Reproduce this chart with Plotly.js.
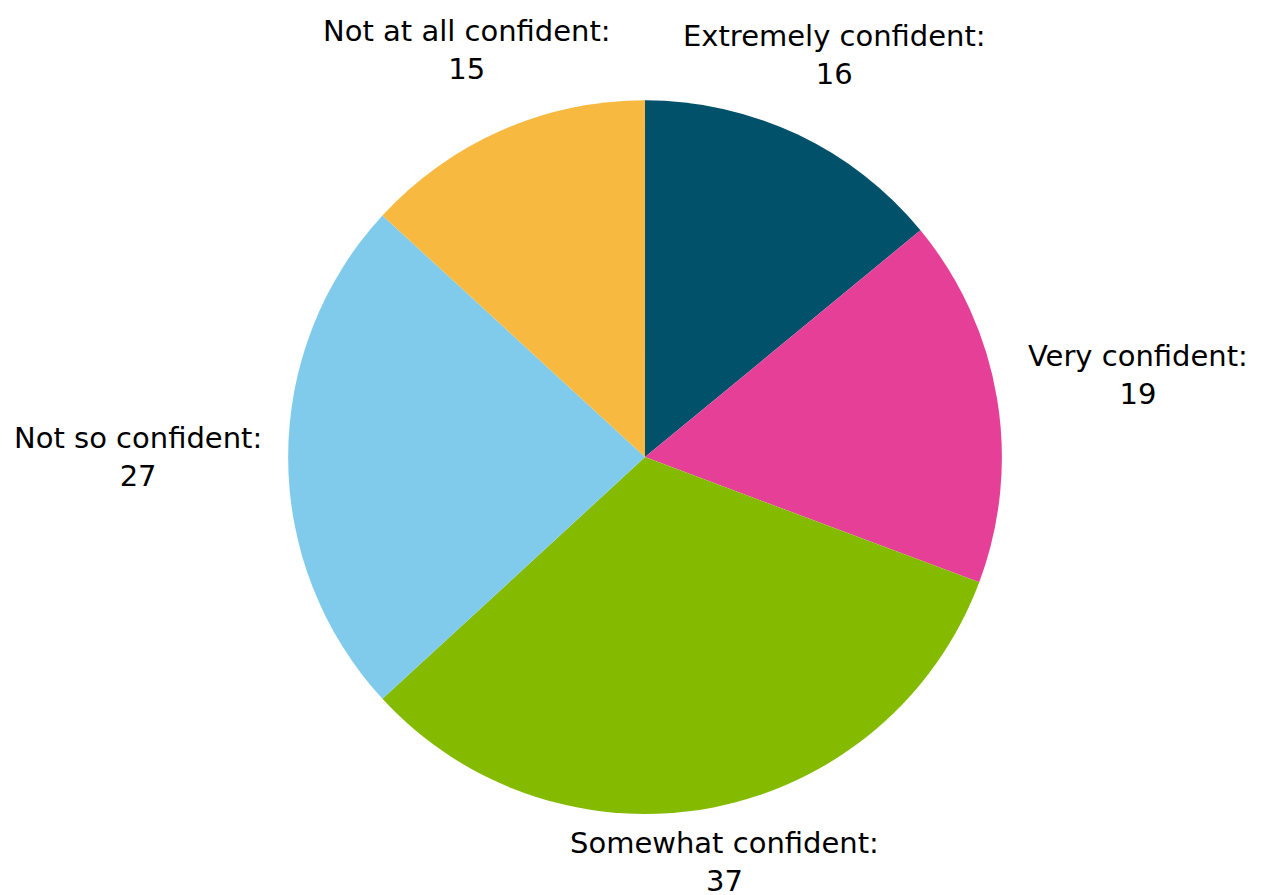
<!DOCTYPE html>
<html>
<head>
<meta charset="utf-8">
<script src="https://cdn.plot.ly/plotly-3.0.1.min.js"></script>
<style>html,body{margin:0;padding:0;background:#fff;}#chart{width:1263px;height:895px;}</style>
</head>
<body>
<div id="chart"></div>
<script>
const categories = ["Extremely confident", "Very confident", "Somewhat confident", "Not so confident", "Not at all confident"];
const values = [16, 19, 37, 27, 15];
const colors = ["#02516B", "#E63F98", "#84BB00", "#80CBEB", "#F7B940"];

const W = 1263, H = 895;
const domX = [0.228, 0.7934], domY = [0.0905, 0.888];
const FONT_FAMILY = "DejaVu Sans";
const FONT_SIZE = 29;
const basePad = 26, upPad = 32;

const trace = {
  type: "pie",
  labels: categories,
  values: values,
  sort: false,
  direction: "clockwise",
  rotation: 0,
  marker: {colors: colors, line: {width: 0}},
  textposition: "none",
  automargin: false,
  domain: {x: domX, y: domY},
  hoverinfo: "label+value",
  showlegend: false
};

// label placement derived from the slice angles
const ctx = document.createElement("canvas").getContext("2d");
ctx.font = FONT_SIZE + "px '" + FONT_FAMILY + "'";
const total = values.reduce((a, b) => a + b, 0);
const cxPx = (domX[0] + domX[1]) / 2 * W;
const cyPx = (domY[0] + domY[1]) / 2 * H; // measured from bottom
const rPx = Math.min((domX[1] - domX[0]) * W, (domY[1] - domY[0]) * H) / 2;
const hh = 1.015 * FONT_SIZE;
let cum = 0;
const annotations = values.map((v, i) => {
  const mid = (cum + v / 2) / total * 2 * Math.PI;
  cum += v;
  const s = Math.sin(mid), c = Math.cos(mid);
  const line1 = categories[i] + ":";
  const hw = Math.max(ctx.measureText(line1).width, ctx.measureText(String(v)).width) / 2;
  const ext = Math.min(Math.abs(s) > 1e-6 ? hw / Math.abs(s) : Infinity,
                       Math.abs(c) > 1e-6 ? hh / Math.abs(c) : Infinity);
  const d = rPx + basePad + upPad * Math.max(0, c) + ext;
  return {
    xref: "paper", yref: "paper",
    x: (cxPx + d * s) / W, y: (cyPx + d * c) / H,
    xanchor: "center", yanchor: "middle",
    text: line1 + "<br>" + v,
    showarrow: false,
    align: "center",
    font: {family: "'" + FONT_FAMILY + "', sans-serif", size: FONT_SIZE, color: "#000"}
  };
});

const layout = {
  width: W, height: H,
  margin: {l: 0, r: 0, t: 0, b: 0},
  paper_bgcolor: "#fff",
  showlegend: false,
  annotations: annotations
};
Plotly.newPlot("chart", [trace], layout, {displayModeBar: false, staticPlot: true});
</script>
</body>
</html>
